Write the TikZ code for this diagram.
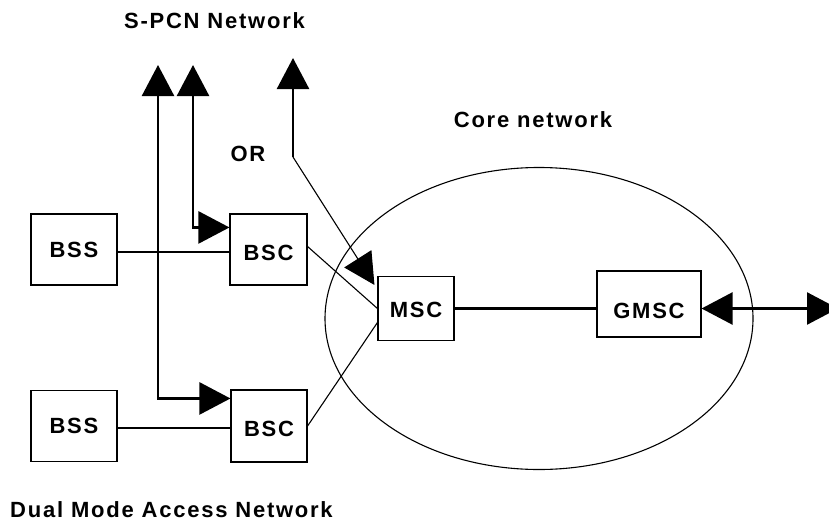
\documentclass[tikz,border=0pt]{standalone}
\usepackage{fontspec}
\newfontfamily\lblfont{Liberation Sans}[LetterSpace=8]
\usetikzlibrary{arrows.meta}
\begin{document}
\begin{tikzpicture}[x=1pt,y=1pt,
  txt/.style={font=\lblfont\bfseries\fontsize{22}{24}\selectfont},
  box/.style={draw, line width=1.1pt, inner sep=0pt, txt,
    text height=15.75pt, text depth=0pt},
  lbl/.style={inner sep=0pt, txt, text height=15.75pt, text depth=0pt},
  heavy/.style={line width=2.5pt},
  light/.style={line width=1.1pt},
  tip/.tip={Triangle[length=31pt,width=32pt]},
  head/.style={-tip},
  twohead/.style={tip-tip}]
\useasboundingbox (0,0) rectangle (829,-522);

% access network boxes
\node[box, minimum width=86pt, minimum height=71pt] (bss1) at (74,-249.5) {BSS};
\node[box, minimum width=77pt, minimum height=71pt, text height=21.75pt] (bsc1) at (268.5,-249.5) {BSC};
\node[box, minimum width=86pt, minimum height=71pt] (bss2) at (74,-426) {BSS};
\node[box, minimum width=76pt, minimum height=72pt, text height=20.75pt] (bsc2) at (269,-426) {BSC};

% core network boxes
\node[box, minimum width=76pt, minimum height=64pt, text height=18.75pt] (msc) at (416,-308.5) {MSC};
\node[box, minimum width=104pt, minimum height=66pt, text height=29.75pt] (gmsc) at (649,-304) {GMSC};

% core network boundary
\draw[light] (539,-318.5) ellipse [x radius=214pt, y radius=151pt];

% labels
\node[lbl] (spcn) at (214.5,-20.5) {S-PCN Network};
\node[lbl] (core) at (533,-119.5) {Core network};
\node[lbl] (or) at (248,-154) {OR};
\node[lbl] (dual) at (171.5,-509.5) {Dual Mode Access Network};

% free ends of the S-PCN connections
\coordinate (tA) at (158,-65);
\coordinate (tB) at (193,-65);
\coordinate (tC) at (293,-58);
\coordinate (kC) at (293,-157);
\coordinate (tD) at (838,-308.5);
\coordinate (tM) at ([xshift=-3pt,yshift=-9pt]msc.north west);

% connections
\draw[heavy, twohead] (tA) |- ([yshift=-9pt]bsc2.north west);
\draw[heavy, twohead] (tB) |- ([yshift=-14pt]bsc1.north west);
\draw[heavy, head] (kC) -- (tC);
\draw[light, head] (kC) -- (tM);

\draw[heavy] ([yshift=-2.5pt]bss1.east) -- ([yshift=-2.5pt]bsc1.west);
\draw[heavy] ([yshift=-2pt]bss2.east) -- ([yshift=-2pt]bsc2.west);
\draw[light] ([yshift=3pt]bsc1.east) -- (msc.west);
\draw[light] (bsc2.east) -- ([yshift=-14pt]msc.west);

\draw[heavy] (msc.east) -- (msc.east -| gmsc.west);
\draw[heavy, twohead] (msc.east -| gmsc.east) -- (tD);
\end{tikzpicture}
\end{document}
